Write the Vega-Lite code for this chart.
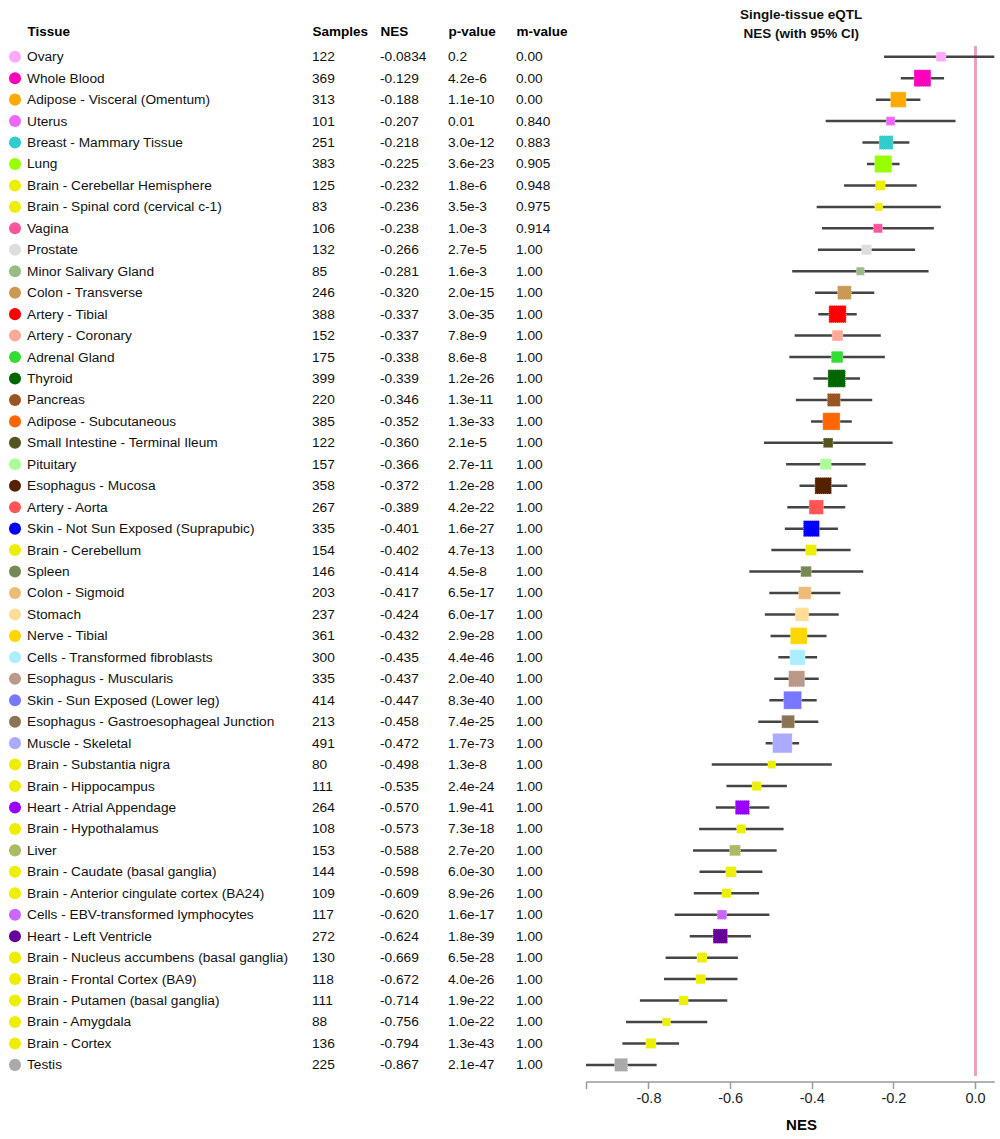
{
  "$schema": "https://vega.github.io/schema/vega-lite/v6.json",
  "padding": {"left": 0, "top": 7, "right": 0, "bottom": 0},
  "spacing": 0,
  "config": {
    "view": {"stroke": null},
    "font": "Liberation Sans",
    "locale": {"number": {"decimal": ".", "thousands": ",", "grouping": [3], "currency": ["$", ""], "minus": "-"}}
  },
  "data": {"values": [
    {"tissue": "Ovary", "samples": 122, "nes": -0.0834, "pval": "0.2", "mval": "0.00", "lo": -0.223, "hi": 0.056},
    {"tissue": "Whole Blood", "samples": 369, "nes": -0.129, "pval": "4.2e-6", "mval": "0.00", "lo": -0.182, "hi": -0.076},
    {"tissue": "Adipose - Visceral (Omentum)", "samples": 313, "nes": -0.188, "pval": "1.1e-10", "mval": "0.00", "lo": -0.243, "hi": -0.134},
    {"tissue": "Uterus", "samples": 101, "nes": -0.207, "pval": "0.01", "mval": "0.840", "lo": -0.366, "hi": -0.048},
    {"tissue": "Breast - Mammary Tissue", "samples": 251, "nes": -0.218, "pval": "3.0e-12", "mval": "0.883", "lo": -0.276, "hi": -0.161},
    {"tissue": "Lung", "samples": 383, "nes": -0.225, "pval": "3.6e-23", "mval": "0.905", "lo": -0.265, "hi": -0.185},
    {"tissue": "Brain - Cerebellar Hemisphere", "samples": 125, "nes": -0.232, "pval": "1.8e-6", "mval": "0.948", "lo": -0.321, "hi": -0.143},
    {"tissue": "Brain - Spinal cord (cervical c-1)", "samples": 83, "nes": -0.236, "pval": "3.5e-3", "mval": "0.975", "lo": -0.388, "hi": -0.084},
    {"tissue": "Vagina", "samples": 106, "nes": -0.238, "pval": "1.0e-3", "mval": "0.914", "lo": -0.375, "hi": -0.101},
    {"tissue": "Prostate", "samples": 132, "nes": -0.266, "pval": "2.7e-5", "mval": "1.00", "lo": -0.385, "hi": -0.147},
    {"tissue": "Minor Salivary Gland", "samples": 85, "nes": -0.281, "pval": "1.6e-3", "mval": "1.00", "lo": -0.448, "hi": -0.114},
    {"tissue": "Colon - Transverse", "samples": 246, "nes": -0.320, "pval": "2.0e-15", "mval": "1.00", "lo": -0.392, "hi": -0.247},
    {"tissue": "Artery - Tibial", "samples": 388, "nes": -0.337, "pval": "3.0e-35", "mval": "1.00", "lo": -0.384, "hi": -0.290},
    {"tissue": "Artery - Coronary", "samples": 152, "nes": -0.337, "pval": "7.8e-9", "mval": "1.00", "lo": -0.442, "hi": -0.231},
    {"tissue": "Adrenal Gland", "samples": 175, "nes": -0.338, "pval": "8.6e-8", "mval": "1.00", "lo": -0.455, "hi": -0.221},
    {"tissue": "Thyroid", "samples": 399, "nes": -0.339, "pval": "1.2e-26", "mval": "1.00", "lo": -0.396, "hi": -0.282},
    {"tissue": "Pancreas", "samples": 220, "nes": -0.346, "pval": "1.3e-11", "mval": "1.00", "lo": -0.439, "hi": -0.252},
    {"tissue": "Adipose - Subcutaneous", "samples": 385, "nes": -0.352, "pval": "1.3e-33", "mval": "1.00", "lo": -0.402, "hi": -0.302},
    {"tissue": "Small Intestine - Terminal Ileum", "samples": 122, "nes": -0.360, "pval": "2.1e-5", "mval": "1.00", "lo": -0.517, "hi": -0.202},
    {"tissue": "Pituitary", "samples": 157, "nes": -0.366, "pval": "2.7e-11", "mval": "1.00", "lo": -0.463, "hi": -0.268},
    {"tissue": "Esophagus - Mucosa", "samples": 358, "nes": -0.372, "pval": "1.2e-28", "mval": "1.00", "lo": -0.430, "hi": -0.313},
    {"tissue": "Artery - Aorta", "samples": 267, "nes": -0.389, "pval": "4.2e-22", "mval": "1.00", "lo": -0.460, "hi": -0.318},
    {"tissue": "Skin - Not Sun Exposed (Suprapubic)", "samples": 335, "nes": -0.401, "pval": "1.6e-27", "mval": "1.00", "lo": -0.466, "hi": -0.336},
    {"tissue": "Brain - Cerebellum", "samples": 154, "nes": -0.402, "pval": "4.7e-13", "mval": "1.00", "lo": -0.499, "hi": -0.305},
    {"tissue": "Spleen", "samples": 146, "nes": -0.414, "pval": "4.5e-8", "mval": "1.00", "lo": -0.553, "hi": -0.274},
    {"tissue": "Colon - Sigmoid", "samples": 203, "nes": -0.417, "pval": "6.5e-17", "mval": "1.00", "lo": -0.504, "hi": -0.330},
    {"tissue": "Stomach", "samples": 237, "nes": -0.424, "pval": "6.0e-17", "mval": "1.00", "lo": -0.515, "hi": -0.334},
    {"tissue": "Nerve - Tibial", "samples": 361, "nes": -0.432, "pval": "2.9e-28", "mval": "1.00", "lo": -0.501, "hi": -0.364},
    {"tissue": "Cells - Transformed fibroblasts", "samples": 300, "nes": -0.435, "pval": "4.4e-46", "mval": "1.00", "lo": -0.482, "hi": -0.387},
    {"tissue": "Esophagus - Muscularis", "samples": 335, "nes": -0.437, "pval": "2.0e-40", "mval": "1.00", "lo": -0.492, "hi": -0.383},
    {"tissue": "Skin - Sun Exposed (Lower leg)", "samples": 414, "nes": -0.447, "pval": "8.3e-40", "mval": "1.00", "lo": -0.504, "hi": -0.388},
    {"tissue": "Esophagus - Gastroesophageal Junction", "samples": 213, "nes": -0.458, "pval": "7.4e-25", "mval": "1.00", "lo": -0.531, "hi": -0.384},
    {"tissue": "Muscle - Skeletal", "samples": 491, "nes": -0.472, "pval": "1.7e-73", "mval": "1.00", "lo": -0.513, "hi": -0.431},
    {"tissue": "Brain - Substantia nigra", "samples": 80, "nes": -0.498, "pval": "1.3e-8", "mval": "1.00", "lo": -0.645, "hi": -0.351},
    {"tissue": "Brain - Hippocampus", "samples": 111, "nes": -0.535, "pval": "2.4e-24", "mval": "1.00", "lo": -0.609, "hi": -0.461},
    {"tissue": "Heart - Atrial Appendage", "samples": 264, "nes": -0.570, "pval": "1.9e-41", "mval": "1.00", "lo": -0.635, "hi": -0.504},
    {"tissue": "Brain - Hypothalamus", "samples": 108, "nes": -0.573, "pval": "7.3e-18", "mval": "1.00", "lo": -0.676, "hi": -0.469},
    {"tissue": "Liver", "samples": 153, "nes": -0.588, "pval": "2.7e-20", "mval": "1.00", "lo": -0.691, "hi": -0.486},
    {"tissue": "Brain - Caudate (basal ganglia)", "samples": 144, "nes": -0.598, "pval": "6.0e-30", "mval": "1.00", "lo": -0.675, "hi": -0.521},
    {"tissue": "Brain - Anterior cingulate cortex (BA24)", "samples": 109, "nes": -0.609, "pval": "8.9e-26", "mval": "1.00", "lo": -0.689, "hi": -0.529},
    {"tissue": "Cells - EBV-transformed lymphocytes", "samples": 117, "nes": -0.620, "pval": "1.6e-17", "mval": "1.00", "lo": -0.736, "hi": -0.504},
    {"tissue": "Heart - Left Ventricle", "samples": 272, "nes": -0.624, "pval": "1.8e-39", "mval": "1.00", "lo": -0.699, "hi": -0.549},
    {"tissue": "Brain - Nucleus accumbens (basal ganglia)", "samples": 130, "nes": -0.669, "pval": "6.5e-28", "mval": "1.00", "lo": -0.758, "hi": -0.581},
    {"tissue": "Brain - Frontal Cortex (BA9)", "samples": 118, "nes": -0.672, "pval": "4.0e-26", "mval": "1.00", "lo": -0.762, "hi": -0.582},
    {"tissue": "Brain - Putamen (basal ganglia)", "samples": 111, "nes": -0.714, "pval": "1.9e-22", "mval": "1.00", "lo": -0.821, "hi": -0.607},
    {"tissue": "Brain - Amygdala", "samples": 88, "nes": -0.756, "pval": "1.0e-22", "mval": "1.00", "lo": -0.855, "hi": -0.656},
    {"tissue": "Brain - Cortex", "samples": 136, "nes": -0.794, "pval": "1.3e-43", "mval": "1.00", "lo": -0.864, "hi": -0.725},
    {"tissue": "Testis", "samples": 225, "nes": -0.867, "pval": "2.1e-47", "mval": "1.00", "lo": -0.954, "hi": -0.780}
  ]},
  "hconcat": [
    {
      "width": 300,
      "height": {"step": 21.45},
      "layer": [
        {
          "mark": {"type": "circle", "size": 145, "opacity": 1},
          "encoding": {
            "y": {"field": "tissue", "type": "nominal", "sort": null, "axis": null, "scale": {"type": "band", "paddingInner": 0, "paddingOuter": 0}},
            "x": {"datum": "dot", "type": "nominal",
                  "scale": {"type": "point", "domain": ["dot", "Tissue"], "range": [15, 27], "padding": 0},
                  "axis": {"orient": "top", "title": null, "domain": false, "ticks": false, "labelAlign": "left", "labelAngle": 0, "labelFontWeight": "bold", "labelFontSize": 13.5, "labelColor": "#000", "labelPadding": 8, "labelExpr": "datum.value == 'dot' ? '' : datum.value"}},
            "color": {"field": "tissue", "type": "nominal", "legend": null,
              "scale": {
                "domain": ["Ovary", "Whole Blood", "Adipose - Visceral (Omentum)", "Uterus", "Breast - Mammary Tissue", "Lung", "Brain - Cerebellar Hemisphere", "Brain - Spinal cord (cervical c-1)", "Vagina", "Prostate", "Minor Salivary Gland", "Colon - Transverse", "Artery - Tibial", "Artery - Coronary", "Adrenal Gland", "Thyroid", "Pancreas", "Adipose - Subcutaneous", "Small Intestine - Terminal Ileum", "Pituitary", "Esophagus - Mucosa", "Artery - Aorta", "Skin - Not Sun Exposed (Suprapubic)", "Brain - Cerebellum", "Spleen", "Colon - Sigmoid", "Stomach", "Nerve - Tibial", "Cells - Transformed fibroblasts", "Esophagus - Muscularis", "Skin - Sun Exposed (Lower leg)", "Esophagus - Gastroesophageal Junction", "Muscle - Skeletal", "Brain - Substantia nigra", "Brain - Hippocampus", "Heart - Atrial Appendage", "Brain - Hypothalamus", "Liver", "Brain - Caudate (basal ganglia)", "Brain - Anterior cingulate cortex (BA24)", "Cells - EBV-transformed lymphocytes", "Heart - Left Ventricle", "Brain - Nucleus accumbens (basal ganglia)", "Brain - Frontal Cortex (BA9)", "Brain - Putamen (basal ganglia)", "Brain - Amygdala", "Brain - Cortex", "Testis"],
                "range": ["#FFAAFF", "#FF00BB", "#FFAA00", "#EE66FF", "#33CCCC", "#99FF00", "#EEEE00", "#EEEE00", "#FF5599", "#DDDDDD", "#99BB88", "#CC9955", "#FF0000", "#FFAA99", "#33DD33", "#006600", "#995522", "#FF6600", "#555522", "#AAFF99", "#552200", "#FF5555", "#0000FF", "#EEEE00", "#778855", "#EEBB77", "#FFDD99", "#FFD700", "#AAEEFF", "#BB9988", "#7777FF", "#8B7355", "#AAAAFF", "#EEEE00", "#EEEE00", "#9900FF", "#EEEE00", "#AABB66", "#EEEE00", "#EEEE00", "#CC66FF", "#660099", "#EEEE00", "#EEEE00", "#EEEE00", "#EEEE00", "#EEEE00", "#AAAAAA"]
              }}
          }
        },
        {
          "mark": {"type": "text", "align": "left", "baseline": "middle", "fontSize": 13.7, "color": "#111", "dy": 0.5},
          "encoding": {
            "y": {"field": "tissue", "type": "nominal", "sort": null, "axis": null},
            "x": {"datum": "Tissue", "type": "nominal"},
            "text": {"field": "tissue", "type": "nominal"}
          }
        }
      ]
    },
    {
      "width": 285,
      "height": {"step": 21.45},
      "layer": [
        {
          "mark": {"type": "text", "align": "left", "baseline": "middle", "fontSize": 13.7, "color": "#111", "dy": 0.5},
          "encoding": {
            "y": {"field": "tissue", "type": "nominal", "sort": null, "axis": null, "scale": {"type": "band", "paddingInner": 0, "paddingOuter": 0}},
            "x": {"datum": "Samples", "type": "nominal",
                  "scale": {"type": "point", "domain": ["Samples", "NES", "p-value", "m-value"], "range": [12, 216], "padding": 0},
                  "axis": {"orient": "top", "title": null, "domain": false, "ticks": false, "labelAlign": "left", "labelAngle": 0, "labelFontWeight": "bold", "labelFontSize": 13.5, "labelColor": "#000", "labelPadding": 8}},
            "text": {"field": "samples", "type": "nominal"}
          }
        },
        {
          "mark": {"type": "text", "align": "left", "baseline": "middle", "fontSize": 13.7, "color": "#111", "dy": 0.5},
          "encoding": {
            "y": {"field": "tissue", "type": "nominal", "sort": null, "axis": null},
            "x": {"datum": "NES", "type": "nominal"},
            "text": {"field": "nes", "type": "quantitative", "format": ".3r"}
          }
        },
        {
          "mark": {"type": "text", "align": "left", "baseline": "middle", "fontSize": 13.7, "color": "#111", "dy": 0.5},
          "encoding": {
            "y": {"field": "tissue", "type": "nominal", "sort": null, "axis": null},
            "x": {"datum": "p-value", "type": "nominal"},
            "text": {"field": "pval", "type": "nominal"}
          }
        },
        {
          "mark": {"type": "text", "align": "left", "baseline": "middle", "fontSize": 13.7, "color": "#111", "dy": 0.5},
          "encoding": {
            "y": {"field": "tissue", "type": "nominal", "sort": null, "axis": null},
            "x": {"datum": "m-value", "type": "nominal"},
            "text": {"field": "mval", "type": "nominal"}
          }
        }
      ]
    },
    {
      "width": 408.3,
      "height": {"step": 21.45},
      "title": {"text": ["Single-tissue eQTL", "NES (with 95% CI)"], "fontSize": 13.5, "fontWeight": "bold", "color": "#111", "anchor": "middle", "dx": 11, "lineHeight": 19, "offset": 5, "frame": "group"},
      "layer": [
        {
          "mark": {"type": "rule", "color": "#ec9fc2", "strokeWidth": 2},
          "encoding": {"x": {"datum": 0, "type": "quantitative"}}
        },
        {
          "mark": {"type": "rule", "color": "#444444", "strokeWidth": 2.5, "clip": true},
          "encoding": {
            "y": {"field": "tissue", "type": "nominal", "sort": null, "axis": null, "scale": {"type": "band", "paddingInner": 0, "paddingOuter": 0}},
            "x": {"field": "lo", "type": "quantitative",
                  "scale": {"domain": [-0.953, 0.047], "nice": false, "zero": false},
                  "axis": {"orient": "bottom", "title": "NES", "titleFontSize": 15, "titleFontWeight": "bold", "titleColor": "#000", "titlePadding": 12, "titleX": 215,
                           "values": [-0.953, -0.8, -0.6, -0.4, -0.2, 0], "labelExpr": "datum.value < -0.9 ? '' : format(datum.value, '.1f')",
                           "labelFontSize": 14.5, "labelColor": "#222", "labelPadding": 3, "labelFlush": false,
                           "domainColor": "#999999", "domainWidth": 1.5, "tickColor": "#999999", "tickWidth": 1.5, "tickSize": 7, "offset": 6, "grid": false}},
            "x2": {"field": "hi"}
          }
        },
        {
          "mark": {"type": "square", "opacity": 1, "stroke": "white", "strokeWidth": 0.6, "strokeDash": [1, 1]},
          "encoding": {
            "y": {"field": "tissue", "type": "nominal", "sort": null, "axis": null},
            "x": {"field": "nes", "type": "quantitative"},
            "size": {"field": "samples", "type": "quantitative", "legend": null, "scale": {"domain": [0, 500], "range": [0, 390], "zero": true}},
            "color": {"field": "tissue", "type": "nominal", "legend": null}
          }
        }
      ]
    }
  ]
}
